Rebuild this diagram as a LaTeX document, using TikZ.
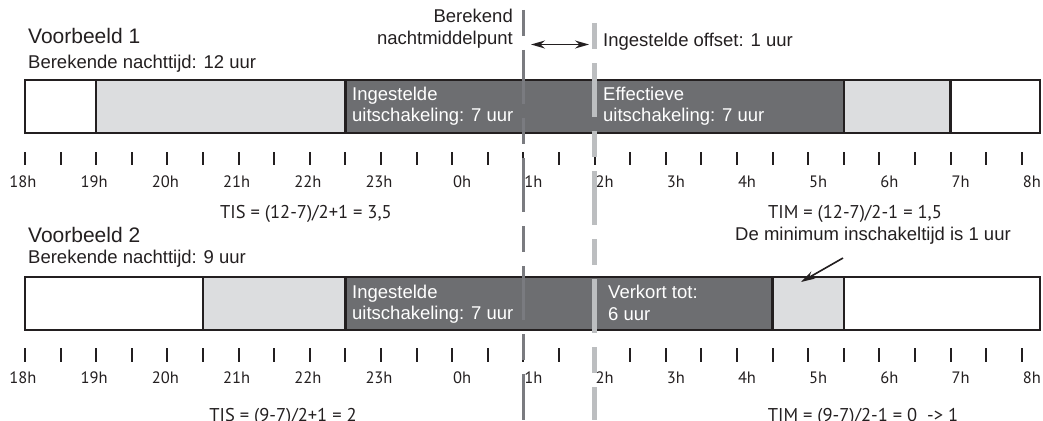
\documentclass[tikz,border=0pt]{standalone}
\usepackage{fontspec}
\setmainfont{Liberation Sans}
\newfontfamily\numfont{PT Sans}
\usetikzlibrary{arrows.meta}

\definecolor{ink}{HTML}{231F20}
\definecolor{barlight}{HTML}{DCDDDF}
\definecolor{bardark}{HTML}{6D6E71}
\definecolor{midline}{HTML}{7A7B80}
\definecolor{offline}{HTML}{BCBEC0}

\tikzset{
  seg/.style={draw=ink, line width=2.5pt, inner sep=0pt, outer sep=0pt, anchor=north west},
  thinseg/.style={seg, line width=2pt},
  head/.style={anchor=base west, inner sep=0pt, text=ink, font=\fontsize{21}{25}\selectfont},
  sub/.style={anchor=base west, inner sep=0pt, text=ink, font=\fontsize{18.5}{22}\selectfont},
  subr/.style={sub, anchor=base east},
  inbar/.style={sub, text=white},
  formula/.style={anchor=base, inner sep=0pt, text=ink, font=\numfont\fontsize{18.5}{22}\selectfont},
  note/.style={anchor=base, inner sep=0pt, text=ink, font=\fontsize{18.5}{22}\selectfont},
  hour/.style={anchor=base, inner sep=0pt, text=ink, font=\numfont\fontsize{16.5}{20}\selectfont},
  tick/.style={draw=ink, line width=2pt},
  nightmid/.style={draw=midline, line width=3pt, dash pattern=on 26pt off 14pt on 54pt off 14pt},
  offsetmid/.style={draw=offline, line width=5pt, dash pattern=on 26pt off 14pt on 54pt off 14pt},
  pointer/.style={draw=ink, line width=1.6pt, -{Stealth[length=14pt,width=8pt]}},
  twoway/.style={draw=ink, line width=1.6pt, {Stealth[length=14pt,width=8pt]}-{Stealth[length=14pt,width=8pt]}}
}

% one block of a time bar: name, left x, right x, top y, bottom y, fill, style
\newcommand\barseg[7]{%
  \node[#7, fill=#6, minimum width={#3-#2}, minimum height={#5-#4}] (#1) at (#2,#4) {};}

\begin{document}
\begin{tikzpicture}[x=1pt,y=-1pt]
\useasboundingbox (0,0) rectangle (1043,420);

% ---------- example 1 ----------
\node[head] (ex1) at (28,44) {Voorbeeld 1};
\node[sub] (night1) at (28,68) {Berekende nachttijd: 12 uur};

\barseg{b1a}{25}{96.2}{80}{133}{white}{seg}
\barseg{b1b}{96.2}{345.4}{80}{133}{barlight}{seg}
\barseg{b1c}{345.4}{843.8}{80}{133}{bardark}{seg}
\barseg{b1d}{843.8}{950.6}{80}{133}{barlight}{seg}
\barseg{b1e}{950.6}{1040}{80}{133}{white}{seg}

\node[inbar] (set1a) at (352,100) {Ingestelde};
\node[inbar] (set1b) at (352,121) {uitschakeling: 7 uur};
\node[inbar] (eff1a) at (603,100) {Effectieve};
\node[inbar] (eff1b) at (603,121) {uitschakeling: 7 uur};

\foreach \k in {0,...,28}
  \draw[tick] ({25+35.6*\k},152) -- ({25+35.6*\k},165);
\foreach \k/\t in {0/18h,2/19h,4/20h,6/21h,8/22h,10/23h}
  \node[hour] (ha\k) at ({23+35.6*\k},187) {\t};
\foreach \k/\t in {12/0h,14/1h,16/2h,18/3h,20/4h,22/5h,24/6h,26/7h,28/8h}
  \node[hour] (ha\k) at ({35+35.6*\k},187) {\t};

\node[formula] (tis1) at (306,218) {TIS = (12-7)/2+1 = 3,5};
\node[formula] (tim1) at (855,218) {TIM = (12-7)/2-1 = 1,5};
\node[note] (minnote) at (873,240) {De minimum inschakeltijd is 1 uur};

% ---------- example 2 ----------
\node[head] (ex2) at (28,242) {Voorbeeld 2};
\node[sub] (night2) at (28,263) {Berekende nachttijd: 9 uur};

\barseg{b2a}{25}{203}{277}{330}{white}{thinseg}
\barseg{b2b}{203}{345.4}{277}{330}{barlight}{thinseg}
\barseg{b2d}{772.6}{843.8}{277}{330}{barlight}{thinseg}
\barseg{b2e}{843.8}{1040}{277}{330}{white}{thinseg}
\barseg{b2c}{345.4}{772.6}{277}{330}{bardark}{seg}

\node[inbar] (set2a) at (352,298) {Ingestelde};
\node[inbar] (set2b) at (352,319) {uitschakeling: 7 uur};
\node[inbar] (cut2a) at (608,298) {Verkort tot:};
\node[inbar] (cut2b) at (608,320) {6 uur};

\foreach \k in {0,...,28}
  \draw[tick] ({25+35.6*\k},348) -- ({25+35.6*\k},362);
\foreach \k/\t in {0/18h,2/19h,4/20h,6/21h,8/22h,10/23h}
  \node[hour] (hb\k) at ({23+35.6*\k},383) {\t};
\foreach \k/\t in {12/0h,14/1h,16/2h,18/3h,20/4h,22/5h,24/6h,26/7h,28/8h}
  \node[hour] (hb\k) at ({35+35.6*\k},383) {\t};

\node[formula] (tis2) at (283,421) {TIS = (9-7)/2+1 = 2};
\node[formula] (tim2) at (863,421) {TIM = (9-7)/2-1 = 0\ \ -> 1};

\coordinate (noteTail) at (843,258);
\coordinate (noteTip) at (801,282);
\draw[pointer] (noteTail) -- (noteTip);

% ---------- night midpoint and offset ----------
\coordinate (midTop) at (523.4,10);
\coordinate (midBot) at (523.4,420);
\draw[nightmid] (midTop) -- (midBot);
\coordinate (offTop) at (594.6,23);
\coordinate (offBot) at (594.6,420);
\draw[offsetmid] (offTop) -- (offBot);

\node[subr] (calc1) at (513,23) {Berekend};
\node[subr] (calc2) at (513,45) {nachtmiddelpunt};
\node[sub] (offtxt) at (603,46) {Ingestelde offset: 1 uur};

\coordinate (offL) at (531,44.5);
\coordinate (offR) at (589,44.5);
\draw[twoway] (offL) -- (offR);
\end{tikzpicture}
\end{document}
